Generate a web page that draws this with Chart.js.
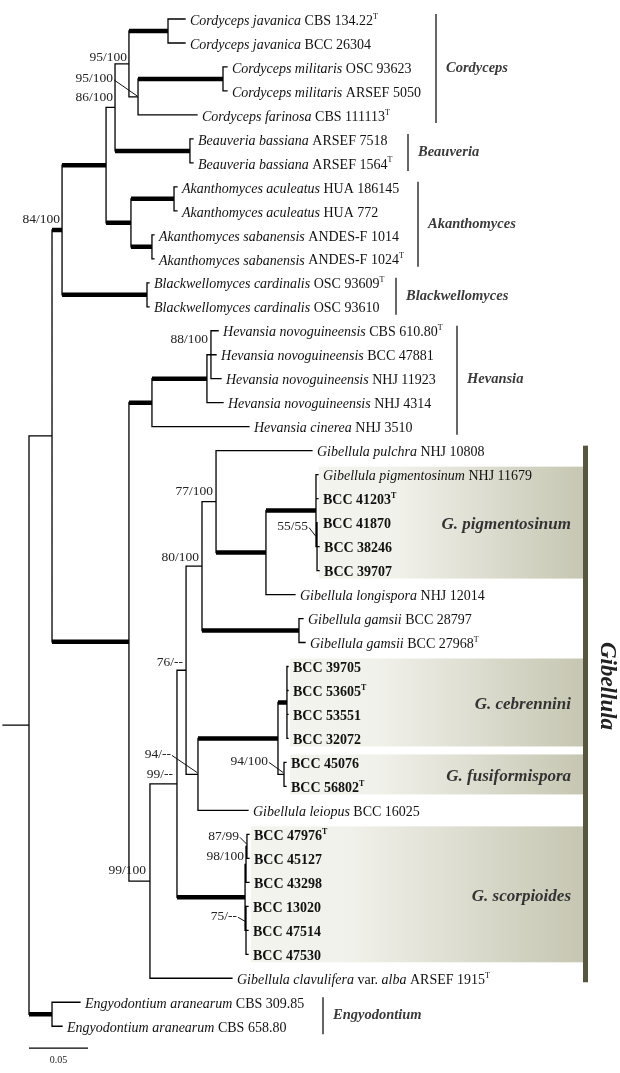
<!DOCTYPE html>
<html>
<head>
<meta charset="utf-8">
<script src="https://cdn.jsdelivr.net/npm/chart.js@4.4.1/dist/chart.umd.min.js"></script>
<style>
  html, body { margin: 0; padding: 0; background: #fff; }
  canvas { display: block; }
</style>
</head>
<body>
<canvas id="tree" width="620" height="1073"></canvas>
<script>
// Tip labels, top to bottom. *italic*, **bold**, ^T = type strain
const tipLabels = [
  '*Cordyceps javanica* CBS 134.22^T',
  '*Cordyceps javanica* BCC 26304',
  '*Cordyceps militaris* OSC 93623',
  '*Cordyceps militaris* ARSEF 5050',
  '*Cordyceps farinosa* CBS 111113^T',
  '*Beauveria bassiana* ARSEF 7518',
  '*Beauveria bassiana* ARSEF 1564^T',
  '*Akanthomyces aculeatus* HUA 186145',
  '*Akanthomyces aculeatus* HUA 772',
  '*Akanthomyces sabanensis* ANDES-F 1014',
  '*Akanthomyces sabanensis* ANDES-F 1024^T',
  '*Blackwellomyces cardinalis* OSC 93609^T',
  '*Blackwellomyces cardinalis* OSC 93610',
  '*Hevansia novoguineensis* CBS 610.80^T',
  '*Hevansia novoguineensis* BCC 47881',
  '*Hevansia novoguineensis* NHJ 11923',
  '*Hevansia novoguineensis* NHJ 4314',
  '*Hevansia cinerea* NHJ 3510',
  '*Gibellula pulchra* NHJ 10808',
  '*Gibellula pigmentosinum* NHJ 11679',
  '**BCC 41203**^T',
  '**BCC 41870**',
  '**BCC 38246**',
  '**BCC 39707**',
  '*Gibellula longispora* NHJ 12014',
  '*Gibellula gamsii* BCC 28797',
  '*Gibellula gamsii* BCC 27968^T',
  '**BCC 39705**',
  '**BCC 53605**^T',
  '**BCC 53551**',
  '**BCC 32072**',
  '**BCC 45076**',
  '**BCC 56802**^T',
  '*Gibellula leiopus* BCC 16025',
  '**BCC 47976**^T',
  '**BCC 45127**',
  '**BCC 43298**',
  '**BCC 13020**',
  '**BCC 47514**',
  '**BCC 47530**',
  '*Gibellula clavulifera* var. *alba* ARSEF 1915^T',
  '*Engyodontium aranearum* CBS 309.85',
  '*Engyodontium aranearum* CBS 658.80'
];

// distance of each tip from the root (substitutions/site)
const tipDepth = [
  0.1322, 0.1322, 0.1678, 0.1678, 0.1424, 0.1390, 0.1390,
  0.1254, 0.1254, 0.1059, 0.1059, 0.1017, 0.1017,
  0.1602, 0.1585, 0.1627, 0.1644, 0.1864,
  0.2398, 0.2449, 0.2449, 0.2449, 0.2458, 0.2458, 0.2254,
  0.2322, 0.2339,
  0.2195, 0.2195, 0.2195, 0.2195, 0.2178, 0.2178, 0.1856,
  0.1864, 0.1864, 0.1864, 0.1856, 0.1856, 0.1856, 0.1720,
  0.0432, 0.0280
];

// internal nodes: name, depth, children (numbers are tips)
const nodeNames = ['R', 'A', 'B', 'N86', 'C0', 'C1', 'jav', 'C2', 'mil', 'Bea',
  'Ak', 'acu', 'sab', 'Blk', 'GH', 'Hev', 'H1', 'H2', 'G0', 'G1', 'G2', 'G3',
  'G6', 'G7', 'Pig', 'P2', 'gam', 'G4', 'G5', 'ceb', 'fus', 'Sc', 'S98', 'S87',
  'S75', 'Eng'];
const nodeDepth = [0, 0.0195, 0.0280, 0.0653, 0.0729, 0.0847, 0.1178, 0.0924,
  0.1644, 0.1364, 0.0864, 0.1229, 0.1042, 0.1000, 0.0847, 0.1042, 0.1508,
  0.1542, 0.1025, 0.1254, 0.1331, 0.1466, 0.1585, 0.2008, 0.2432, 0.2441,
  0.2288, 0.1432, 0.2110, 0.2186, 0.2161, 0.1831, 0.1839, 0.1847, 0.1839,
  0.0195];
const nodeKids = [
  ['A', 'Eng'], ['B', 'GH'], ['N86', 'Blk'], ['C0', 'Ak'], ['C1', 'Bea'],
  ['jav', 'C2'], [0, 1], ['mil', 4], [2, 3], [5, 6],
  ['acu', 'sab'], [7, 8], [9, 10], [11, 12], ['Hev', 'G0'],
  ['H1', 17], ['H2', 16], [13, 14, 15], ['G1', 40], ['G2', 'Sc'],
  ['G3', 'G4'], ['G6', 'gam'], [18, 'G7'], ['Pig', 24], [19, 20, 'P2'],
  [21, 22, 23], [25, 26], ['G5', 33], ['ceb', 'fus'], [27, 28, 29, 30],
  [31, 32], ['S98', 'S75'], ['S87', 36], [34, 35], [37, 38, 39], [41, 42]
];
const rootStem = 0.022;

// branches with strong support (drawn thick)
const thickBranches = ['B', 'N86', 'jav', 'mil', 'Bea', 'Ak', 'acu', 'sab', 'Blk',
  'GH', 'Hev', 'H1', 'G7', 'Pig', 'gam', 'G5', 'ceb', 'Sc', 'Eng'];

// bootstrap / posterior support (ML/BI)
const supportNodes = ['C1', 'C2', 'C0', 'B', 'H2', 'G6', 'P2', 'G3', 'G2', 'G4',
  'G1', 'fus', 'G0', 'S87', 'S98', 'S75'];
const supportValues = ['95/100', '95/100', '86/100', '84/100', '88/100', '77/100',
  '55/55', '80/100', '76/--', '94/--', '99/--', '94/100', '99/100', '87/99',
  '98/100', '75/--'];

// genus brackets
const cladeNames = ['Cordyceps', 'Beauveria', 'Akanthomyces', 'Blackwellomyces',
  'Hevansia', 'Engyodontium'];
const cladeFirst = [0, 5, 7, 11, 13, 41];
const cladeLast = [4, 6, 10, 12, 17, 42];

// shaded species boxes inside Gibellula
const boxNames = ['G. pigmentosinum', 'G. cebrennini', 'G. fusiformispora', 'G. scorpioides'];
const boxFirst = [19, 27, 31, 34];
const boxLast = [23, 30, 32, 39];

const genusName = 'Gibellula';
const genusFirst = 18;
const genusLast = 40;

const scaleBarLength = 0.05;
const scaleBarLabel = '0.05';

// ---- layout ----
const FONT = '"Liberation Serif", "Times New Roman", serif';
const xMin = -0.02458, xMax = 0.50085;
const yMin = -0.792, yMax = 43.95;

const idx = name => nodeNames.indexOf(name);
function yOf(k) {
  if (typeof k === 'number') return k;
  const kids = nodeKids[idx(k)];
  return (yOf(kids[0]) + yOf(kids[kids.length - 1])) / 2;
}
function xOf(k) {
  return typeof k === 'number' ? tipDepth[k] : nodeDepth[idx(k)];
}

const thinPts = [], thickPts = [];
const gap = { x: null, y: null };
nodeNames.forEach((name, i) => {
  const kids = nodeKids[i];
  const x = nodeDepth[i];
  thinPts.push({ x, y: yOf(kids[0]) }, { x, y: yOf(kids[kids.length - 1]) }, gap);
  kids.forEach(k => {
    const seg = [{ x, y: yOf(k) }, { x: xOf(k), y: yOf(k) }, gap];
    (typeof k === 'string' && thickBranches.includes(k) ? thickPts : thinPts).push(...seg);
  });
});
thinPts.push({ x: -rootStem, y: yOf('R') }, { x: 0, y: yOf('R') }, gap);

const scaleY = 42.91;

// label placement for support values: [dx, dy] of right edge, optional leader end
const supportPlace = {
  C1: [-2, -7], C2: [-25, -18, -1, -1], C0: [-2, -10], B: [-2, -11],
  H2: [-3, -15], G6: [-3, -10], P2: [-9, -20, -1, -10], G3: [-3, -9],
  G2: [-3, -8], G4: [-27, -20, -1, -2], G1: [-4, -9], fus: [-16, -13, -1, -2],
  G0: [-4, -11], S87: [-8, -10, 0, -2], S98: [-2, -8], S75: [-9, -14, -1, -9]
};
const cladeBarX = [436, 408, 418, 396, 457, 323];
const boxLeft = [319, 290, 290, 251];

function drawRich(ctx, str, x, y, size) {
  const re = /\*\*(.+?)\*\*|\*(.+?)\*|\^(\w)|([^*^]+)/g;
  let m, lastBold = false;
  while ((m = re.exec(str))) {
    let text, font, dy = 0;
    if (m[1]) { text = m[1]; font = 'bold ' + size + 'px ' + FONT; lastBold = true; }
    else if (m[2]) { text = m[2]; font = 'italic ' + size + 'px ' + FONT; lastBold = false; }
    else if (m[3]) { text = m[3]; font = (lastBold ? 'bold ' : '') + Math.round(size * 0.6) + 'px ' + FONT; dy = -size * 0.32; }
    else { text = m[4]; font = size + 'px ' + FONT; lastBold = false; }
    ctx.font = font;
    ctx.fillText(text, x, y + dy);
    x += ctx.measureText(text).width;
  }
}

const treeDecor = {
  id: 'treeDecor',
  beforeDatasetsDraw(chart) {
    const ctx = chart.ctx;
    const ys = chart.scales.y;
    ctx.save();
    boxNames.forEach((n, i) => {
      const top = ys.getPixelForValue(boxFirst[i]) - 8;
      const bot = ys.getPixelForValue(boxLast[i]) + 8;
      const g = ctx.createLinearGradient(boxLeft[i], 0, 583, 0);
      g.addColorStop(0, '#f4f4ef');
      g.addColorStop(0.3, '#f1f1eb');
      g.addColorStop(1, '#c6c6b2');
      ctx.fillStyle = g;
      ctx.fillRect(boxLeft[i], top, 583 - boxLeft[i], bot - top);
    });
    ctx.restore();
  },
  afterDatasetsDraw(chart) {
    const ctx = chart.ctx;
    const xs = chart.scales.x, ys = chart.scales.y;
    ctx.save();
    ctx.fillStyle = '#111';
    ctx.textBaseline = 'middle';
    ctx.textAlign = 'left';
    tipLabels.forEach((s, i) => {
      drawRich(ctx, s, xs.getPixelForValue(tipDepth[i]) + 5, ys.getPixelForValue(i) + 2, 14);
    });

    // support values
    ctx.font = '13.5px ' + FONT;
    ctx.textAlign = 'right';
    ctx.fillStyle = '#222';
    ctx.strokeStyle = '#111';
    ctx.lineWidth = 1;
    supportNodes.forEach((n, i) => {
      const px = xs.getPixelForValue(nodeDepth[idx(n)]);
      const py = ys.getPixelForValue(yOf(n));
      const p = supportPlace[n];
      const lx = px + p[0], ly = py + p[1];
      ctx.fillText(supportValues[i], lx, ly);
      if (p.length > 2) {
        ctx.beginPath();
        ctx.moveTo(lx + 1, ly + 1);
        ctx.lineTo(px + p[2], py + p[3]);
        ctx.stroke();
      }
    });

    // genus brackets
    ctx.textAlign = 'left';
    ctx.strokeStyle = '#666';
    ctx.lineWidth = 2;
    ctx.fillStyle = '#3a3a3a';
    ctx.font = 'bold italic 14.5px ' + FONT;
    cladeNames.forEach((n, i) => {
      const t = ys.getPixelForValue(cladeFirst[i]) - 5;
      const b = ys.getPixelForValue(cladeLast[i]) + 8;
      ctx.beginPath();
      ctx.moveTo(cladeBarX[i], t);
      ctx.lineTo(cladeBarX[i], b);
      ctx.stroke();
      ctx.fillText(n, cladeBarX[i] + 10, (ys.getPixelForValue(cladeFirst[i]) + ys.getPixelForValue(cladeLast[i])) / 2 + 1);
    });

    // species box labels
    ctx.textAlign = 'right';
    ctx.font = 'bold italic 17px ' + FONT;
    ctx.fillStyle = '#333';
    boxNames.forEach((n, i) => {
      const m = (ys.getPixelForValue(boxFirst[i]) + ys.getPixelForValue(boxLast[i])) / 2;
      ctx.fillText(n, 571, m + 2);
    });

    // Gibellula bar
    ctx.fillStyle = '#57563f';
    const gt = ys.getPixelForValue(genusFirst) - 5;
    const gb = ys.getPixelForValue(genusLast) + 4;
    ctx.fillRect(583, gt, 5, gb - gt);
    ctx.save();
    ctx.translate(607, 686);
    ctx.rotate(Math.PI / 2);
    ctx.textAlign = 'center';
    ctx.fillStyle = '#222';
    ctx.font = 'bold italic 23px ' + FONT;
    ctx.fillText(genusName, 0, 0);
    ctx.restore();

    // scale bar label
    ctx.textAlign = 'center';
    ctx.fillStyle = '#222';
    ctx.font = '10px ' + FONT;
    ctx.fillText(scaleBarLabel, xs.getPixelForValue(scaleBarLength / 2), ys.getPixelForValue(scaleY) + 12);
    ctx.restore();
  }
};

new Chart(document.getElementById('tree'), {
  type: 'scatter',
  data: {
    datasets: [
      {
        data: thinPts, showLine: true, borderColor: '#000', borderWidth: 1.3,
        borderCapStyle: 'square', pointRadius: 0, spanGaps: false
      },
      {
        data: thickPts, showLine: true, borderColor: '#000', borderWidth: 4.5,
        borderCapStyle: 'butt', pointRadius: 0, spanGaps: false
      },
      {
        data: [{ x: 0, y: scaleY }, { x: scaleBarLength, y: scaleY }],
        showLine: true, borderColor: '#000', borderWidth: 1.2, pointRadius: 0
      }
    ]
  },
  options: {
    responsive: false,
    animation: false,
    devicePixelRatio: 1,
    layout: { padding: 0 },
    plugins: { legend: { display: false }, tooltip: { enabled: false } },
    scales: {
      x: { type: 'linear', min: xMin, max: xMax, display: false },
      y: { type: 'linear', min: yMin, max: yMax, reverse: true, display: false }
    }
  },
  plugins: [treeDecor]
});
</script>
</body>
</html>
